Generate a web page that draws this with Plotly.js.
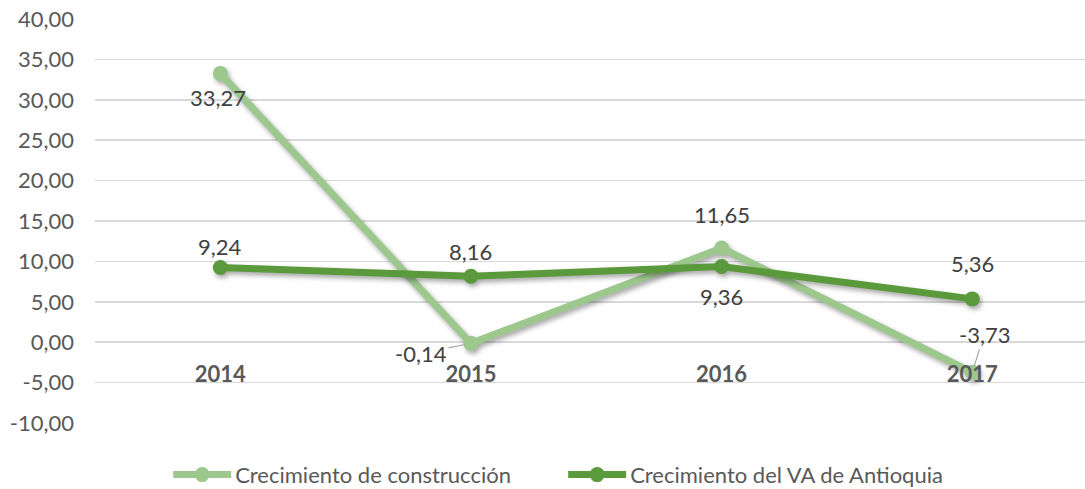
<!DOCTYPE html>
<html>
<head>
<meta charset="utf-8">
<script src="https://cdn.plot.ly/plotly-3.0.1.min.js"></script>
<style>
html,body{margin:0;padding:0;background:#fff;}
#chart{width:1085px;height:489px;}
.scatterlayer .trace{filter:drop-shadow(2px 3px 2.5px rgba(0,0,0,0.35));}
</style>
</head>
<body>
<div id="chart"></div>
<script>
// ---- data ----
const years = ['2014', '2015', '2016', '2017'];
const construccion = [33.27, -0.14, 11.65, -3.73];
const vaAntioquia = [9.24, 8.16, 9.36, 5.36];
const seriesNames = ['Crecimiento de construcción', 'Crecimiento del VA de Antioquia'];
const yTickVals = [-10, -5, 0, 5, 10, 15, 20, 25, 30, 35, 40];

// ---- style ----
const colLight = '#9DC88D';
const colDark = '#5B9A3C';
const fontFam = 'Lato, "Open Sans", sans-serif';
const fmt = v => v.toFixed(2).replace('.', ',');

// label offsets (px) per point: [dx, dy, leader]
const offC = [[-2, 24, false], [-50, 10, true], [0, -34, false], [12, -38, true]];
const offV = [[0, -21, false], [0, -25, false], [0, 30, false], [0, -35, false]];

function makeAnns(vals, offs) {
  return vals.map((v, i) => {
    const o = offs[i];
    const a = {
      x: i, y: v, xref: 'x', yref: 'y',
      text: fmt(v),
      font: {family: fontFam, size: 22, color: '#404040'}
    };
    if (o[2]) {
      Object.assign(a, {showarrow: true, arrowhead: 0, arrowwidth: 1.2, arrowcolor: '#A6A6A6',
        ax: o[0], ay: o[1], standoff: 6});
    } else {
      Object.assign(a, {showarrow: false, xshift: o[0], yshift: -o[1]});
    }
    return a;
  });
}

const traces = [
  {x: years, y: construccion, name: seriesNames[0], type: 'scatter', mode: 'lines+markers',
   line: {color: colLight, width: 7}, marker: {color: colLight, size: 15}, hoverinfo: 'none'},
  {x: years, y: vaAntioquia, name: seriesNames[1], type: 'scatter', mode: 'lines+markers',
   line: {color: colDark, width: 7}, marker: {color: colDark, size: 15}, hoverinfo: 'none'}
];

const layout = {
  width: 1085, height: 489,
  margin: {l: 95, r: 0, t: 19, b: 66},
  paper_bgcolor: '#fff', plot_bgcolor: '#fff',
  showlegend: true,
  legend: {orientation: 'h', xref: 'container', yref: 'container', x: 0.155, y: 0.029,
    xanchor: 'left', yanchor: 'middle', entrywidth: 323, itemwidth: 57,
    font: {family: fontFam, size: 22, color: '#595959'}},
  xaxis: {type: 'category', range: [-0.5, 3.45], anchor: 'free', position: 0.198,
    showgrid: false, zeroline: false, showline: false, ticks: '',
    ticklabelstandoff: 16,
    tickfont: {family: fontFam, size: 22, color: '#595959', weight: 'bold'}},
  yaxis: {range: [-10, 40], tickvals: yTickVals, ticktext: yTickVals.map(fmt),
    anchor: 'free', position: 0,
    showgrid: true, gridcolor: '#D9D9D9', gridwidth: 1.5, zeroline: false, showline: false,
    ticks: '', ticklabelstandoff: 21,
    tickfont: {family: fontFam, size: 22, color: '#595959'}},
  annotations: makeAnns(construccion, offC).concat(makeAnns(vaAntioquia, offV))
};

Plotly.newPlot('chart', traces, layout, {staticPlot: true, displayModeBar: false}).then(gd => {
  // lengthen legend symbol lines to match the reference's longer swatches
  gd.querySelectorAll('.legend .traces').forEach(t => {
    const ln = t.querySelector('path.js-line');
    if (ln) { ln.setAttribute('d', 'M5,0h58'); ln.style.strokeWidth = '7px'; }
    const pts = t.querySelector('g.legendpoints .scatterpts');
    const mk = t.querySelector('g.legendpoints path.scatterpts');
    if (mk) mk.setAttribute('transform', 'translate(34,0)');
  });
});
</script>
</body>
</html>
